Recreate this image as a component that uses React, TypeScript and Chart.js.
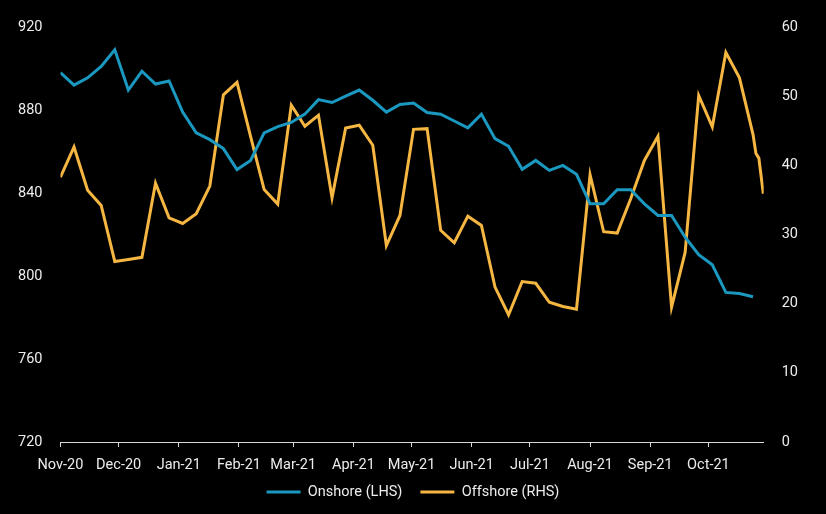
import React, { useEffect, useRef } from "react";
import { Chart, registerables } from "chart.js";

Chart.register(...registerables);

// Weekly observations, starting Nov-20
const ONSHORE = [
  898, 892, 895.5, 901, 909, 889.6, 898.7, 892.5, 894, 879,
  869, 865.7, 861.4, 851.3, 855.7, 869, 872, 874, 878, 885,
  883.6, 886.7, 889.6, 884.7, 879, 882.7, 883.4, 878.8, 878, 874.7,
  871.4, 878, 866.2, 862.5, 851.4, 855.7, 850.9, 853.3, 849, 834.8,
  834.8, 841.6, 841.6, 834.8, 829.2, 829.2, 818.7, 810.3, 805.4, 792.1,
  791.6, 790,
];
const OFFSHORE = [
  38.3, 42.65, 36.4, 34.2, 26.1, 26.4, 26.7, 37.4, 32.4, 31.6,
  33, 37, 50.2, 52, 44.2, 36.5, 34.4, 48.7, 45.65, 47.25,
  35.3, 45.4, 45.8, 42.9, 28.4, 32.75, 45.2, 45.3, 30.6, 28.8,
  32.65, 31.3, 22.4, 18.4, 23.2, 22.95, 20.2, 19.6, 19.2, 38.65,
  30.4, 30.2, 35.2, 40.7, 44.2, 19.5, 27.4, 50.1, 45.55, 56.3,
  52.65, 44.45,
];
// Extra late offshore readings (days since 1 Nov 2020)
const OFFSHORE_EXTRA_DAYS = [358.5, 360, 362.3];
const OFFSHORE_EXTRA_VALUES = [41.7, 41.05, 35.9];

// Month ticks (days since 1 Nov 2020)
const MONTH_DAYS = [0, 30, 61, 92, 120, 151, 181, 212, 242, 273, 304, 334];
const MONTH_LABELS = [
  "Nov-20", "Dec-20", "Jan-21", "Feb-21", "Mar-21", "Apr-21",
  "May-21", "Jun-21", "Jul-21", "Aug-21", "Sep-21", "Oct-21",
];
const LEFT_TICKS = [720, 760, 800, 840, 880, 920];
const RIGHT_TICKS = [0, 10, 20, 30, 40, 50, 60];

const BLUE = "#1a98c0";
const ORANGE = "#f5b642";
const TEXT = "#ececec";
const AXIS = "#d8d8d8";
const FONT = { family: "Roboto", size: 14.5 };

// Nudges the legend so it sits closer to the axis labels
const legendShift = {
  id: "legendShift",
  afterLayout(chart: any) {
    const lg = chart.legend;
    if (lg) {
      lg.top -= 7.75;
      lg.bottom -= 7.75;
      lg.left += 5;
      lg.right += 5;
    }
  },
};

export default function App() {
  const ref = useRef<HTMLCanvasElement | null>(null);

  useEffect(() => {
    document.body.style.margin = "0";
    document.body.style.background = "#000";
    const onshoreData = ONSHORE.map((v, i) => ({ x: i * 7, y: v }));
    const offshoreData = OFFSHORE.map((v, i) => ({ x: i * 7, y: v })).concat(
      OFFSHORE_EXTRA_DAYS.map((d, i) => ({ x: d, y: OFFSHORE_EXTRA_VALUES[i] }))
    );
    const chart = new Chart(ref.current as HTMLCanvasElement, {
      type: "line",
      data: {
        datasets: [
          {
            label: "Onshore (LHS)",
            data: onshoreData,
            borderColor: BLUE,
            backgroundColor: BLUE,
            borderWidth: 3,
            pointRadius: 0,
            pointStyle: "line",
            yAxisID: "yL",
            tension: 0,
          },
          {
            label: "Offshore (RHS)",
            data: offshoreData,
            borderColor: ORANGE,
            backgroundColor: ORANGE,
            borderWidth: 3,
            pointRadius: 0,
            pointStyle: "line",
            yAxisID: "yR",
            tension: 0,
          },
        ],
      },
      plugins: [legendShift],
      options: {
        animation: false,
        responsive: false,
        maintainAspectRatio: false,
        layout: { padding: { left: 0, right: 10, top: 27, bottom: -3 } },
        plugins: {
          tooltip: { enabled: false },
          legend: {
            position: "bottom",
            labels: {
              color: TEXT,
              font: FONT,
              usePointStyle: true,
              pointStyleWidth: 34,
              padding: 18,
            },
          },
        },
        scales: {
          x: {
            type: "linear",
            min: 0,
            max: 362.5,
            afterBuildTicks: (axis: any) => {
              axis.ticks = MONTH_DAYS.map((d) => ({ value: d }));
            },
            afterFit: (axis: any) => {
              axis.height = 32.5;
            },
            ticks: {
              color: TEXT,
              font: FONT,
              padding: 10,
              maxRotation: 0,
              autoSkip: false,
              callback: (v: any) => {
                const idx = MONTH_DAYS.indexOf(Number(v));
                return idx >= 0 ? MONTH_LABELS[idx] : "";
              },
            },
            grid: {
              drawOnChartArea: false,
              drawTicks: true,
              tickLength: 5,
              color: AXIS,
            },
            border: { display: true, color: AXIS, width: 1 },
          },
          yL: {
            type: "linear",
            position: "left",
            min: 720,
            max: 920,
            afterBuildTicks: (axis: any) => {
              axis.ticks = LEFT_TICKS.map((v) => ({ value: v }));
            },
            ticks: { color: TEXT, font: FONT, padding: 18 },
            grid: { display: false, drawTicks: false },
            border: { display: false },
          },
          yR: {
            type: "linear",
            position: "right",
            min: 0,
            max: 60,
            afterBuildTicks: (axis: any) => {
              axis.ticks = RIGHT_TICKS.map((v) => ({ value: v }));
            },
            ticks: { color: TEXT, font: FONT, padding: 18 },
            grid: { display: false, drawTicks: false },
            border: { display: false },
          },
        },
      },
    });
    return () => chart.destroy();
  }, []);

  return (
    <div style={{ position: "absolute", left: 0, top: 0, width: 826, height: 514, background: "#000" }}>
      <canvas ref={ref} width={826} height={514} style={{ display: "block" }} />
    </div>
  );
}
